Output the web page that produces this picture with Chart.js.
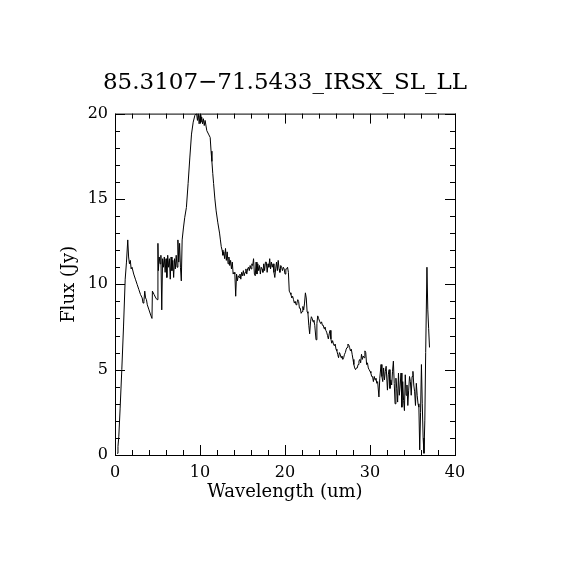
<!DOCTYPE html>
<html>
<head>
<meta charset="utf-8">
<script src="https://cdn.jsdelivr.net/npm/chart.js@4.4.1/dist/chart.umd.min.js"></script>
<style>
html,body{margin:0;padding:0;background:#ffffff;}
#box{width:570px;height:570px;}
</style>
</head>
<body>
<div id="box"><canvas id="specChart" width="570" height="570"></canvas></div>
<script>

// ========================================
// Data
// ========================================

const titleText = "85.3107\u221271.5433_IRSX_SL_LL";

const xTicks = [0,10,20,30,40];
const yTicks = [0,5,10,15,20];

const wavelength = [
0.25,0.35,0.45,0.6,0.8,1.0,1.2,1.35,1.5,1.6,1.7,1.8,1.9,2.0,2.2,2.4,2.6,2.8,3.0,3.2,
3.3,3.4,3.5,3.6,3.7,3.8,4.0,4.2,4.35,4.4,4.6,4.8,4.95,5.05,5.1,5.2,5.3,5.4,5.5,5.6,
5.7,5.8,5.9,6.0,6.1,6.2,6.3,6.4,6.5,6.6,6.7,6.8,6.9,7.0,7.1,7.2,7.3,7.4,7.5,7.6,
7.7,7.8,7.9,8.05,8.2,8.4,8.6,8.8,9.0,9.2,9.4,9.6,9.7,9.8,9.9,10.0,10.1,10.2,10.3,10.4,
10.5,10.6,10.8,11.0,11.2,11.3,11.4,11.5,11.6,11.75,11.9,12.1,12.3,12.4,12.5,12.6,12.7,12.8,12.9,13.0,
13.1,13.2,13.3,13.4,13.5,13.6,13.7,13.8,13.9,14.0,14.1,14.2,14.3,14.4,14.5,14.6,14.7,14.8,14.9,15.0,
15.1,15.2,15.3,15.4,15.5,15.6,15.7,15.8,15.9,16.0,16.1,16.2,16.3,16.4,16.5,16.6,16.7,16.8,16.9,17.0,
17.1,17.2,17.3,17.4,17.5,17.6,17.7,17.8,17.9,18.0,18.1,18.2,18.3,18.4,18.5,18.6,18.7,18.8,18.9,19.0,
19.1,19.2,19.3,19.4,19.5,19.6,19.7,19.8,19.9,20.0,20.1,20.2,20.3,20.4,20.5,20.6,20.7,20.8,20.9,21.0,
21.1,21.2,21.3,21.4,21.5,21.6,21.7,21.8,21.9,22.0,22.1,22.2,22.3,22.4,22.5,22.6,22.7,22.8,22.9,23.0,
23.1,23.2,23.3,23.4,23.5,23.65,23.75,23.85,23.95,24.1,24.2,24.3,24.4,24.5,24.6,24.7,24.8,24.9,25.0,25.1,
25.2,25.3,25.4,25.5,25.6,25.7,25.8,25.9,26.0,26.1,26.2,26.3,26.4,26.5,26.6,26.7,26.8,26.9,27.0,27.1,
27.2,27.3,27.4,27.5,27.6,27.7,27.8,27.9,28.0,28.1,28.2,28.3,28.4,28.5,28.6,28.7,28.8,28.9,29.0,29.1,
29.2,29.3,29.4,29.5,29.6,29.7,29.8,29.9,30.0,30.1,30.2,30.3,30.4,30.5,30.6,30.7,30.8,30.9,31.05,31.15,
31.3,31.4,31.5,31.6,31.7,31.8,31.9,32.05,32.15,32.25,32.35,32.45,32.55,32.65,32.75,32.85,32.95,33.05,33.15,33.25,
33.35,33.45,33.55,33.65,33.75,33.85,33.95,34.05,34.15,34.25,34.35,34.45,34.55,34.65,34.75,34.85,34.95,35.05,35.15,35.25,
35.35,35.45,35.55,35.65,35.75,35.85,35.95,36.05,36.15,36.25,36.35,36.45,36.55,36.7,36.8,36.9,37.0
];

const flux = [
0.1,0.5,1.1,2.7,5.0,7.5,10.3,11.3,12.6,11.6,11.2,11.4,10.9,11.0,10.6,10.3,10.0,9.7,9.4,9.2,
8.9,9.0,9.6,9.2,9.1,8.8,8.5,8.2,8.0,9.6,9.4,9.2,9.1,12.4,10.8,11.6,11.2,11.7,8.5,11.5,
11.0,11.6,10.7,11.5,10.4,11.7,11.0,11.5,10.3,11.6,10.8,11.4,10.4,11.5,10.9,11.7,11.0,12.6,11.3,12.4,
11.0,10.2,12.6,13.3,13.9,14.5,15.9,17.4,18.8,19.5,19.9,20.0,19.6,20.0,19.4,19.9,19.5,19.8,19.4,19.7,
19.3,19.6,19.0,18.8,18.6,17.8,17.2,16.5,15.9,15.0,14.3,13.6,13.0,12.6,12.2,12.0,11.7,11.9,11.5,12.1,
11.4,11.9,11.2,11.6,11.1,11.4,10.9,11.3,10.6,10.7,10.6,9.3,10.6,10.2,10.5,10.4,10.6,10.3,10.7,10.5,
10.8,10.5,10.7,10.9,10.6,10.9,11.0,10.8,11.1,10.9,11.2,11.1,11.5,10.6,10.5,11.3,10.6,11.2,10.8,11.1,
10.6,11.0,10.9,10.7,11.2,10.8,11.3,11.3,10.7,11.2,11.0,11.5,10.9,11.3,11.0,11.2,10.7,10.4,10.9,11.3,
10.8,11.4,10.9,10.7,11.1,11.0,10.8,11.0,10.9,10.6,10.9,10.9,11.0,10.7,9.6,9.5,9.4,9.2,9.3,9.1,
8.9,9.0,8.8,8.9,9.1,9.0,8.6,8.6,8.3,8.4,8.7,8.5,8.9,9.5,9.2,8.4,8.3,7.6,7.1,7.8,
8.1,8.0,7.8,7.9,7.6,6.75,7.7,8.15,8.0,7.8,7.7,7.8,7.6,7.6,7.4,7.5,7.3,7.2,7.0,6.8,
7.1,7.3,6.8,6.55,6.7,6.5,6.4,6.5,6.2,6.1,5.9,5.7,6.0,5.9,5.7,5.8,5.6,5.7,5.9,6.0,
6.2,6.3,6.5,6.45,6.3,6.1,6.2,5.9,5.6,5.3,5.1,5.0,5.1,5.1,5.3,5.5,5.6,5.4,5.9,5.6,
5.8,5.7,6.1,6.0,5.3,5.4,5.1,5.0,4.9,4.8,4.6,4.6,4.3,4.6,4.4,4.5,4.2,4.3,3.4,4.5,
5.3,4.6,4.3,5.1,4.4,4.9,5.2,3.8,4.7,5.0,3.9,4.4,4.1,4.9,5.5,4.2,3.0,4.5,3.9,3.1,
4.8,3.5,4.1,4.8,2.8,4.3,3.2,2.6,4.7,3.5,4.1,2.9,3.8,4.6,4.3,3.5,4.6,4.9,4.1,3.7,
2.9,4.2,3.5,3.0,2.8,0.3,2.5,5.3,3.0,1.0,0.1,2.0,6.0,11.0,8.5,7.4,6.3
];

// ========================================
// Box frame with inward ticks on all sides
// ========================================

const framePlugin = {

id:"frame",

afterDraw(chart){

const ctx = chart.ctx;
const a = chart.chartArea;
const xs = chart.scales.x;
const ys = chart.scales.y;

ctx.save();
ctx.strokeStyle = "#000000";
ctx.lineWidth = 1;

ctx.strokeRect(a.left+0.5, a.top+0.5, a.right-a.left, a.bottom-a.top);

ctx.beginPath();

for(let v=0; v<=40; v+=2){
let len = (v%10===0) ? 10 : 5;
let px = Math.round(xs.getPixelForValue(v))+0.5;
ctx.moveTo(px, a.bottom); ctx.lineTo(px, a.bottom-len);
ctx.moveTo(px, a.top); ctx.lineTo(px, a.top+len);
}

for(let v=0; v<=20; v+=1){
let len = (v%5===0) ? 10 : 5;
let py = Math.round(ys.getPixelForValue(v))+0.5;
ctx.moveTo(a.left, py); ctx.lineTo(a.left+len, py);
ctx.moveTo(a.right, py); ctx.lineTo(a.right-len, py);
}

ctx.stroke();
ctx.restore();

}

};

// ========================================
// Spectrum
// ========================================

const serif = "'DejaVu Serif', serif";

new Chart(

document.getElementById("specChart"),

{

type:"line",

data:{

datasets:[{

data: wavelength.map((w,i)=>({x:w, y:flux[i]})),

borderColor:"#000000",

borderWidth:1,

pointRadius:0,

tension:0,

fill:false

}]

},

options:{

responsive:false,

animation:false,

layout:{padding:0},

plugins:{

legend:{display:false},

tooltip:{enabled:false},

title:{
display:true,
text:titleText,
color:"#000000",
font:{family:serif,size:23,weight:"normal"},
padding:{top:69,bottom:17}
}

},

scales:{

x:{

type:"linear",
min:0,
max:40,

grid:{display:false,drawTicks:false},
border:{display:false},

afterFit(scale){ scale.height = 115; },

afterBuildTicks(scale){ scale.ticks = xTicks.map(v=>({value:v})); },

ticks:{
color:"#000000",
font:{family:serif,size:16},
padding:8,
maxRotation:0
},

title:{
display:true,
text:"Wavelength (um)",
color:"#000000",
font:{family:serif,size:18},
padding:{top:0,bottom:67}
}

},

y:{

min:0,
max:20,

grid:{display:false,drawTicks:false},
border:{display:false},

afterFit(scale){ scale.width = 115; },

afterBuildTicks(scale){ scale.ticks = yTicks.map(v=>({value:v})); },

ticks:{
color:"#000000",
font:{family:serif,size:16},
padding:7
},

title:{
display:true,
text:"Flux (Jy)",
color:"#000000",
font:{family:serif,size:18},
padding:{top:59,bottom:0}
}

},

// empty right-hand scale, only to reserve the right margin
yr:{

position:"right",
min:0,
max:20,

grid:{display:false,drawTicks:false},
border:{display:false},
ticks:{display:false},

afterFit(scale){ scale.width = 115; }

}

}

},

plugins:[framePlugin]

}

);

</script>
</body>
</html>
